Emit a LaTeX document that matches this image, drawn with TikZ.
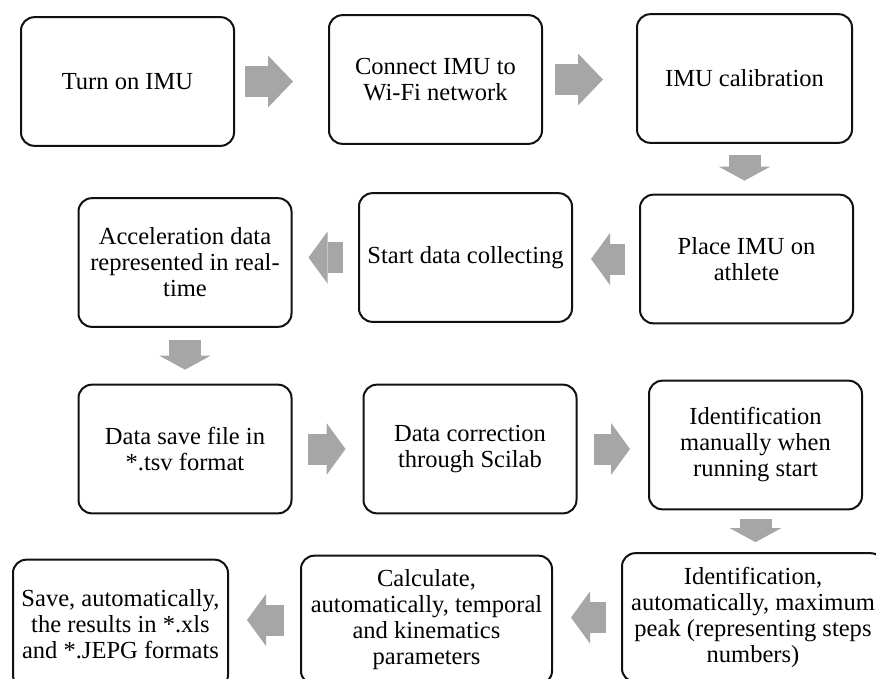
\documentclass[tikz,border=0pt]{standalone}
\usepackage{fontspec}
\setmainfont{Liberation Serif}
\usepackage{xcolor}
\usetikzlibrary{arrows.meta}
\definecolor{arrowgray}{HTML}{A6A6A6}
\definecolor{boxline}{HTML}{111111}

\begin{document}
\begin{tikzpicture}[
  x=0.75pt, y=-0.75pt,
  procbox/.style={rectangle, draw=boxline, line width=1.5pt, rounded corners=10pt, minimum width=159.75pt, minimum height=96.5pt, align=center, inner sep=2pt, font=\fontsize{18.4}{19.5}\selectfont},
  widebox/.style={procbox, minimum width=190pt},
  flowright/.style={draw=arrowgray, line width=23.25pt, -{Triangle[length=14.25pt, width=39pt, line width=0pt]}},
  flowlong/.style={flowright, -{Triangle[length=18.75pt, width=39pt, line width=0pt]}},
  flowdown/.style={draw=arrowgray, line width=24pt, -{Triangle[length=10.5pt, width=38.5pt, line width=0pt]}}
]
  \useasboundingbox (0,0) rectangle (876,679);
  \clip (0,0) rectangle (876,679);

  \node[procbox] (p1) at (127.5,81.5) {Turn on IMU};
  \node[procbox] (p2) at (435.5,79.5) {Connect IMU to\\Wi-Fi network};
  \node[procbox, minimum width=161.25pt] (p3) at (744.5,78.5) {IMU calibration};
  \node[procbox] (p4) at (746.5,259) {Place IMU on\\athlete};
  \node[procbox] (p5) at (465.5,257.5) {Start data collecting};
  \node[procbox] (p6) at (185,262.5) {Acceleration data\\represented in real-\\time};
  \node[procbox] (p7) at (185,449) {Data save file in\\*.tsv format};
  \node[procbox] (p8) at (470,449) {Data correction\\through Scilab};
  \node[procbox] (p9) at (755.5,445) {Identification\\manually when\\running start};
  \node[widebox, minimum width=196.5pt] (p10) at (753,617.5) {Identification,\\automatically, maximum\\peak (representing steps\\numbers)};
  \node[widebox, minimum width=188.25pt] (p11) at (426.5,620) {Calculate,\\automatically, temporal\\and kinematics\\parameters};
  \node[procbox, minimum width=161.25pt] (p12) at (120.5,624) {Save, automatically,\\the results in *.xls\\and *.JEPG formats};

  \draw[flowlong, shorten <=7.5pt, shorten >=26.25pt] (p1.east) -- (p1.east -| p2.west);
  \draw[flowlong, shorten <=9pt, shorten >=24.75pt] (p2.east) -- (p2.east -| p3.west);
  \draw[flowdown, shorten <=8.25pt, shorten >=9.75pt] (p3.south) -- (p3.south |- p4.north);
  \draw[flowright, shorten <=10.5pt, shorten >=13.5pt] (p4.west) -- (p4.west -| p5.east);
  \draw[flowright, shorten <=11.25pt, shorten >=12pt] (p5.west) -- (p5.west -| p6.east);
  \draw[flowdown, shorten <=9pt, shorten >=10.5pt] (p6.south) -- (p6.south |- p7.north);
  \draw[flowright, shorten <=11.25pt, shorten >=12.75pt] (p7.east) -- (p7.east -| p8.west);
  \draw[flowright, shorten <=12pt, shorten >=13.5pt] (p8.east) -- (p8.east -| p9.west);
  \draw[flowdown, shorten <=6.75pt, shorten >=7.5pt] (p9.south) -- (p9.south |- p10.north);
  \draw[flowright, shorten <=11.25pt, shorten >=13.5pt] (p10.west) -- (p10.west -| p11.east);
  \draw[flowright, shorten <=12pt, shorten >=13.5pt] (p11.west) -- (p11.west -| p12.east);
\end{tikzpicture}
\end{document}
